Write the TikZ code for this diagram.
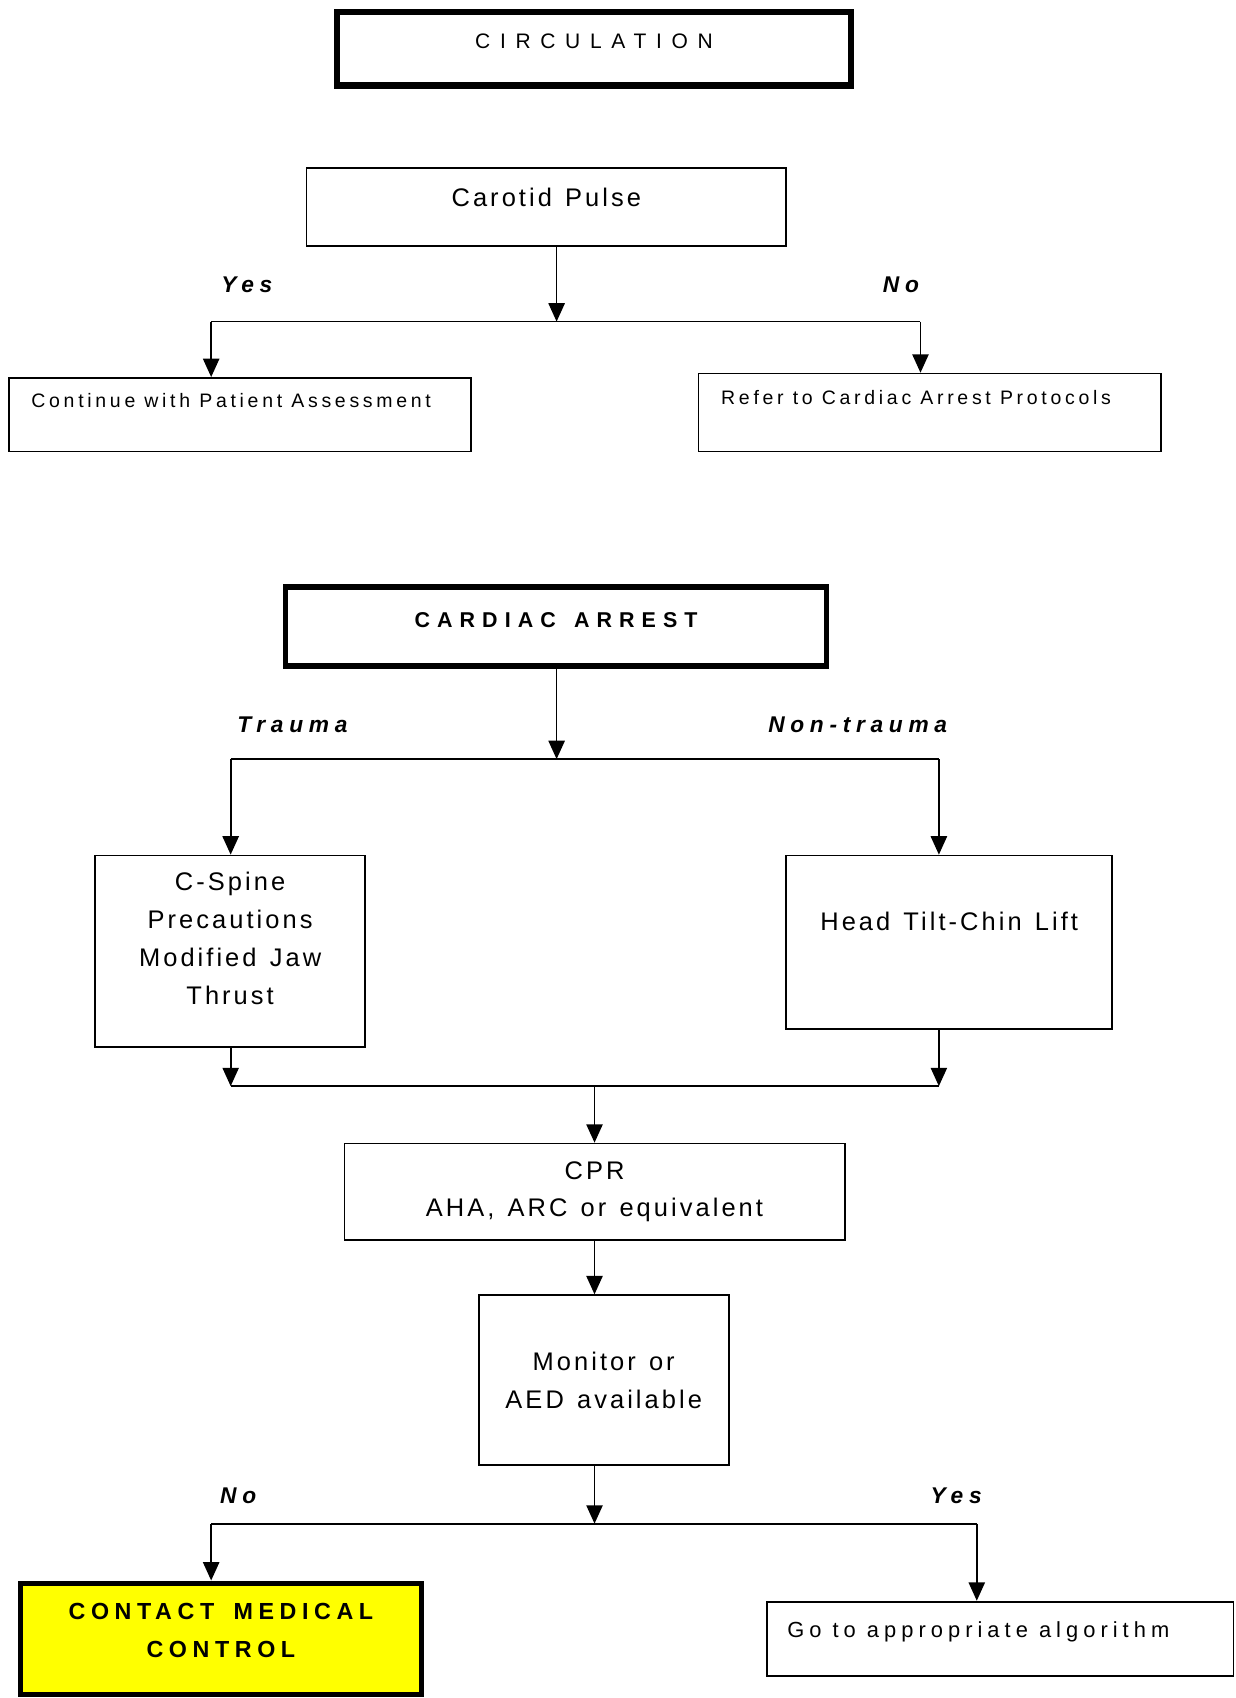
\documentclass[tikz,border=0pt]{standalone}
\usepackage{fontspec}
\setmainfont{Liberation Sans}
\newfontfamily\circfont[LetterSpace=46]{Liberation Sans}
\newfontfamily\bigfont[LetterSpace=12,WordSpace=1.3]{Liberation Sans}
\newfontfamily\smallfont[LetterSpace=19]{Liberation Sans}
\newfontfamily\gofont[LetterSpace=23]{Liberation Sans}
\newfontfamily\headfont[LetterSpace=33,WordSpace=1.4]{Liberation Sans}
\newfontfamily\contfont[LetterSpace=24,WordSpace=1.6]{Liberation Sans}
\newfontfamily\lblfont[LetterSpace=25]{Liberation Sans}
\usetikzlibrary{arrows.meta, positioning}
\definecolor{cyellow}{RGB}{255,255,0}

\begin{document}
\begin{tikzpicture}[x=1pt,y=-1pt,
  box/.style={draw,line width=1.6pt,inner sep=0pt,align=center,
              font=\bigfont\fontsize{23.5}{35}\selectfont},
  thickbox/.style={box,line width=6pt},
  leftbox/.style={draw,line width=1.6pt,inner ysep=0pt,inner xsep=21pt,
                  font=\smallfont\fontsize{18}{22}\selectfont},
  arr/.style={-{Triangle[length=17pt,width=15pt]},line width=1.6pt},
  link/.style={line width=1.6pt},
  answer/.style={font=\lblfont\bfseries\itshape\fontsize{21}{25}\selectfont}
]
\useasboundingbox (0,0) rectangle (1141,1568);

% circulation
\node[thickbox,minimum width=475pt,minimum height=68pt,text height=13.9pt,text depth=14pt,
      font=\circfont\fontsize{19.4}{24}\selectfont] (circ) at (548.5,45) {CIRCULATION};
\node[box,minimum width=443pt,minimum height=72pt,text height=16.8pt,text depth=18pt]
      (carotid) at (504.5,191) {Carotid Pulse};
\node[leftbox,minimum height=68pt,text height=12.9pt,text depth=26pt]
      (cont) at (221.5,383) {\makebox[385pt][l]{Continue with Patient Assessment}};
\node[leftbox,minimum height=72pt,text height=12.9pt,text depth=28pt]
      (refer) at (858.5,381) {\makebox[385pt][l]{Refer to Cardiac Arrest Protocols}};

\node[answer] (yes1lbl) at (228,263) {Yes};
\node[answer] (no1lbl) at (832,263) {No};

\coordinate (j1) at (514,297);
\coordinate (yes1) at (195,297);
\coordinate (no1) at (850,297);
\draw[arr] (j1 |- carotid.south) -- (j1);
\draw[link] (yes1) -- (no1);
\draw[arr] (yes1) -- (yes1 |- cont.north);
\draw[arr] (no1) -- (no1 |- refer.north);

% cardiac arrest
\node[thickbox,line width=4.8pt,minimum width=499pt,minimum height=73pt,text height=14.2pt,text depth=13pt,
      font=\headfont\bfseries\fontsize{19.8}{24}\selectfont] (arrest) at (513.5,578.5) {CARDIAC ARREST};

\node[answer] (traumalbl) at (270,669) {Trauma};
\node[answer] (ntraumalbl) at (792,669) {Non-trauma};

\node[box,minimum width=249pt,minimum height=177pt,text height=103pt,text depth=5pt]
      (cspine) at (212.5,878.5) {C-Spine\\Precautions\\Modified Jaw\\Thrust};
\node[box,minimum width=301pt,minimum height=160pt,text height=16.8pt,text depth=38pt]
      (head) at (876.5,870) {Head Tilt-Chin Lift};

\coordinate (j2) at (514,701);
\coordinate (tr) at (213,701);
\coordinate (ntr) at (867,701);
\draw[arr] (j2 |- arrest.south) -- (j2);
\draw[link] (tr) -- (ntr);
\draw[arr] (tr) -- (tr |- cspine.north);
\draw[arr] (ntr) -- (ntr |- head.north);

% cpr and monitor
\node[box,minimum width=462pt,minimum height=89pt] (cpr) at (549,1100.5) {CPR\\AHA, ARC or equivalent};
\node[box,minimum width=231pt,minimum height=157pt] (mon) at (557.5,1274.5) {Monitor or\\AED available};

\coordinate (m1) at (213,1003);
\coordinate (m2) at (867,1003);
\coordinate (j4) at (549,1003);
\draw[arr] (m1 |- cspine.south) -- (m1);
\draw[arr] (m2 |- head.south) -- (m2);
\draw[link] (m1) -- (m2);
\draw[arr] (j4) -- (j4 |- cpr.north);
\draw[arr] (j4 |- cpr.south) -- (j4 |- mon.north);

% outcome
\node[answer] (no2lbl) at (220,1381) {No};
\node[answer] (yes2lbl) at (883,1381) {Yes};

\node[thickbox,line width=5pt,fill=cyellow,minimum width=370pt,minimum height=103pt,text height=39.4pt,text depth=5pt,
      font=\contfont\bfseries\fontsize{21.5}{35}\selectfont] (contact) at (204,1513.5) {CONTACT MEDICAL\\CONTROL};
\node[leftbox,inner xsep=19pt,minimum height=69pt,text height=14.5pt,text depth=17pt,
      font=\gofont\fontsize{20.2}{24}\selectfont] (goto) at (923.5,1513.5) {\makebox[393pt][l]{Go to appropriate algorithm}};

\coordinate (j5) at (549,1407);
\coordinate (no2) at (195,1407);
\coordinate (yes2) at (902,1407);
\draw[arr] (j4 |- mon.south) -- (j5);
\draw[link] (no2) -- (yes2);
\draw[arr] (no2) -- (no2 |- contact.north);
\draw[arr] (yes2) -- (yes2 |- goto.north);
\end{tikzpicture}
\end{document}
